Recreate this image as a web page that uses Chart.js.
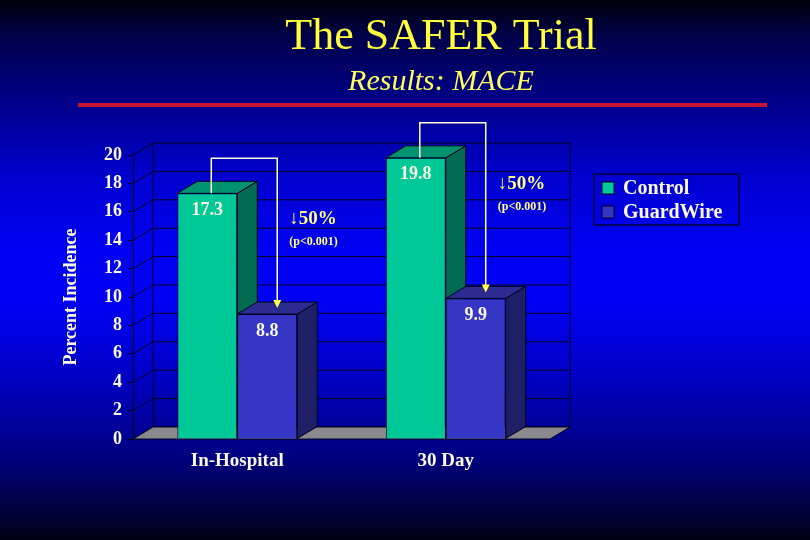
<!DOCTYPE html>
<html>
<head>
<meta charset="utf-8">
<title>The SAFER Trial</title>
<script src="https://cdn.jsdelivr.net/npm/chart.js@4.4.1/dist/chart.umd.min.js"></script>
<style>
  html, body { margin: 0; padding: 0; background: #000018; }
  canvas { display: block; }
</style>
</head>
<body>
<canvas id="chart" width="810" height="540"></canvas>
<script>
// Data: MACE incidence (%) for the two arms.
const CATEGORIES = ["In-Hospital", "30 Day"];
const SERIES_NAMES = ["Control", "GuardWire"];
const CONTROL_VALUES = [17.3, 19.8];
const GUARDWIRE_VALUES = [8.8, 9.9];
const Y_MIN = 0;
const Y_MAX = 20;
const Y_STEP = 2;
const REDUCTION_TEXT = ["↓50%", "↓50%"];
const P_TEXT = ["(p<0.001)", "(p<0.001)"];

const SERIF = "'Liberation Serif', 'DejaVu Serif', serif";
const CREAM = "#fbf8e4";
const YELLOW = "#ffff4a";
const GRID = "#00001c";
// front / side / top shades per series (faux 3D)
const FACE = ["#00c896", "#3535c6"];
const SIDE = ["#006a52", "#1f1f68"];
const TOP = ["#00936f", "#2b2b92"];
const DEPTH_X = 20;
const DEPTH_Y = 12;

const slideBackground = {
  id: "slideBackground",
  beforeDraw(chart) {
    const { ctx, width, height } = chart;
    const g = ctx.createLinearGradient(0, 0, 0, height);
    g.addColorStop(0, "#00000a");
    g.addColorStop(0.07, "#00004c");
    g.addColorStop(0.19, "#00008a");
    g.addColorStop(0.33, "#0000d0");
    g.addColorStop(0.46, "#0000f2");
    g.addColorStop(0.56, "#0000f4");
    g.addColorStop(0.7, "#0000c4");
    g.addColorStop(0.85, "#00007e");
    g.addColorStop(1, "#000016");
    ctx.save();
    ctx.fillStyle = g;
    ctx.fillRect(0, 0, width, height);
    // red rule under the headings
    ctx.fillStyle = "#c81232";
    ctx.fillRect(78, 103, 689, 4);
    ctx.restore();
  },
};

// back wall, left wall, floor and the side/top faces of each bar
const box3d = {
  id: "box3d",
  beforeDatasetsDraw(chart) {
    const { ctx, chartArea: a, scales } = chart;
    const y = scales.y;
    const top = y.getPixelForValue(Y_MAX);
    ctx.save();
    ctx.strokeStyle = GRID;
    ctx.lineWidth = 1;
    for (const t of y.ticks) {
      const py = y.getPixelForValue(t.value);
      ctx.beginPath();
      ctx.moveTo(a.left, py);
      ctx.lineTo(a.left + DEPTH_X, py - DEPTH_Y);
      ctx.lineTo(a.right + DEPTH_X, py - DEPTH_Y);
      ctx.stroke();
    }
    ctx.beginPath();
    ctx.moveTo(a.left + DEPTH_X, top - DEPTH_Y);
    ctx.lineTo(a.left + DEPTH_X, a.bottom - DEPTH_Y);
    ctx.moveTo(a.right + DEPTH_X, top - DEPTH_Y);
    ctx.lineTo(a.right + DEPTH_X, a.bottom - DEPTH_Y);
    ctx.stroke();

    // floor
    ctx.beginPath();
    ctx.moveTo(a.left, a.bottom);
    ctx.lineTo(a.right, a.bottom);
    ctx.lineTo(a.right + DEPTH_X, a.bottom - DEPTH_Y);
    ctx.lineTo(a.left + DEPTH_X, a.bottom - DEPTH_Y);
    ctx.closePath();
    ctx.fillStyle = "#8a8a8e";
    ctx.fill();
    ctx.stroke();

    chart.data.datasets.forEach((ds, i) => {
      for (const bar of chart.getDatasetMeta(i).data) {
        const l = bar.x - bar.width / 2;
        const r = bar.x + bar.width / 2;
        // side
        ctx.beginPath();
        ctx.moveTo(r, bar.y);
        ctx.lineTo(r + DEPTH_X, bar.y - DEPTH_Y);
        ctx.lineTo(r + DEPTH_X, bar.base - DEPTH_Y);
        ctx.lineTo(r, bar.base);
        ctx.closePath();
        ctx.fillStyle = SIDE[i];
        ctx.fill();
        ctx.stroke();
        // top
        ctx.beginPath();
        ctx.moveTo(l, bar.y);
        ctx.lineTo(r, bar.y);
        ctx.lineTo(r + DEPTH_X, bar.y - DEPTH_Y);
        ctx.lineTo(l + DEPTH_X, bar.y - DEPTH_Y);
        ctx.closePath();
        ctx.fillStyle = TOP[i];
        ctx.fill();
        ctx.stroke();
      }
    });
    ctx.restore();
  },
};

// value labels, the reduction arrows and their notes
const annotations = {
  id: "annotations",
  afterDatasetsDraw(chart) {
    const { ctx } = chart;
    const ctrl = chart.getDatasetMeta(0).data;
    const guard = chart.getDatasetMeta(1).data;
    ctx.save();
    ctx.textAlign = "center";
    ctx.textBaseline = "middle";
    ctx.fillStyle = CREAM;
    ctx.font = "bold 18px " + SERIF;
    chart.data.datasets.forEach((ds, i) => {
      chart.getDatasetMeta(i).data.forEach((bar, j) => {
        ctx.fillText(ds.data[j].toFixed(1), bar.x, bar.y + 17);
      });
    });

    CATEGORIES.forEach((c, j) => {
      const g = ctrl[j];
      const b = guard[j];
      const sx = g.x + 4;
      const topY = g.y - 35;
      const ex = b.x + 10;
      const ey = b.y - 6;
      ctx.strokeStyle = "#ffffd8";
      ctx.lineWidth = 1.5;
      ctx.beginPath();
      ctx.moveTo(sx, g.y);
      ctx.lineTo(sx, topY);
      ctx.lineTo(ex, topY);
      ctx.lineTo(ex, ey - 7);
      ctx.stroke();
      ctx.fillStyle = YELLOW;
      ctx.beginPath();
      ctx.moveTo(ex - 4, ey - 8);
      ctx.lineTo(ex + 4, ey - 8);
      ctx.lineTo(ex, ey);
      ctx.closePath();
      ctx.fill();

      ctx.textAlign = "left";
      ctx.fillStyle = "#ffff80";
      ctx.font = "bold 19px " + SERIF;
      ctx.fillText(REDUCTION_TEXT[j], ex + 12, topY + 61);
      ctx.font = "bold 12px " + SERIF;
      ctx.fillText(P_TEXT[j], ex + 12, topY + 84);
    });
    ctx.restore();
  },
  afterDraw(chart) {
    const { ctx, chartArea: a } = chart;
    const x0 = a.right + 44;
    const y0 = a.top + 19;
    ctx.save();
    ctx.strokeStyle = "#00003a";
    ctx.lineWidth = 1.5;
    ctx.strokeRect(x0, y0, 145, 51);
    ctx.textAlign = "left";
    ctx.textBaseline = "middle";
    ctx.font = "bold 20px " + SERIF;
    chart.data.datasets.forEach((ds, i) => {
      const cy = y0 + 14 + i * 24;
      ctx.fillStyle = ds.backgroundColor;
      ctx.fillRect(x0 + 8, cy - 6, 12, 12);
      ctx.strokeStyle = GRID;
      ctx.lineWidth = 1;
      ctx.strokeRect(x0 + 8, cy - 6, 12, 12);
      ctx.fillStyle = CREAM;
      ctx.fillText(ds.label, x0 + 29, cy + 1);
    });
    ctx.restore();
  },
};

new Chart(document.getElementById("chart"), {
  type: "bar",
  data: {
    labels: CATEGORIES,
    datasets: [
      { label: SERIES_NAMES[0], data: CONTROL_VALUES, backgroundColor: FACE[0] },
      { label: SERIES_NAMES[1], data: GUARDWIRE_VALUES, backgroundColor: FACE[1] },
    ].map((d) => ({
      ...d,
      borderColor: GRID,
      borderWidth: 1,
      categoryPercentage: 0.575,
      barPercentage: 1,
    })),
  },
  options: {
    responsive: false,
    animation: false,
    events: [],
    layout: { padding: { left: 72, right: 0, top: 0, bottom: 0 } },
    plugins: {
      legend: { display: false },
      tooltip: { enabled: false },
      title: {
        display: true,
        text: "The SAFER Trial",
        color: "#ffff3c",
        font: { family: SERIF, size: 44, weight: "normal" },
        padding: { top: 11, bottom: 0 },
      },
      subtitle: {
        display: true,
        text: "Results: MACE",
        color: "#ffff5a",
        font: { family: SERIF, size: 30, style: "italic" },
        padding: { top: 0.5, bottom: 54.7 },
      },
    },
    scales: {
      x: {
        grid: { display: false, drawTicks: false },
        border: { display: false },
        ticks: {
          color: CREAM,
          padding: 11,
          font: { family: SERIF, size: 19, weight: "bold" },
        },
        afterFit(scale) {
          scale.height = 101;
        },
      },
      y: {
        min: Y_MIN,
        max: Y_MAX,
        grid: { drawOnChartArea: false, drawTicks: true, tickLength: 5, color: GRID },
        border: { display: true, color: GRID },
        ticks: {
          stepSize: Y_STEP,
          color: CREAM,
          padding: 6,
          font: { family: SERIF, size: 18, weight: "bold" },
        },
        title: {
          display: true,
          text: "Percent Incidence",
          color: CREAM,
          font: { family: SERIF, size: 18, weight: "bold" },
          padding: { top: -11, bottom: 0 },
        },
        afterFit(scale) {
          scale.width = 61;
        },
      },
      // empty right-hand axis: only reserves the strip where the legend sits
      spacer: {
        type: "linear",
        position: "right",
        display: true,
        grid: { display: false },
        border: { display: false },
        ticks: { display: false },
        afterFit(scale) {
          scale.width = 260;
        },
      },
    },
  },
  plugins: [slideBackground, box3d, annotations],
});
</script>
</body>
</html>
